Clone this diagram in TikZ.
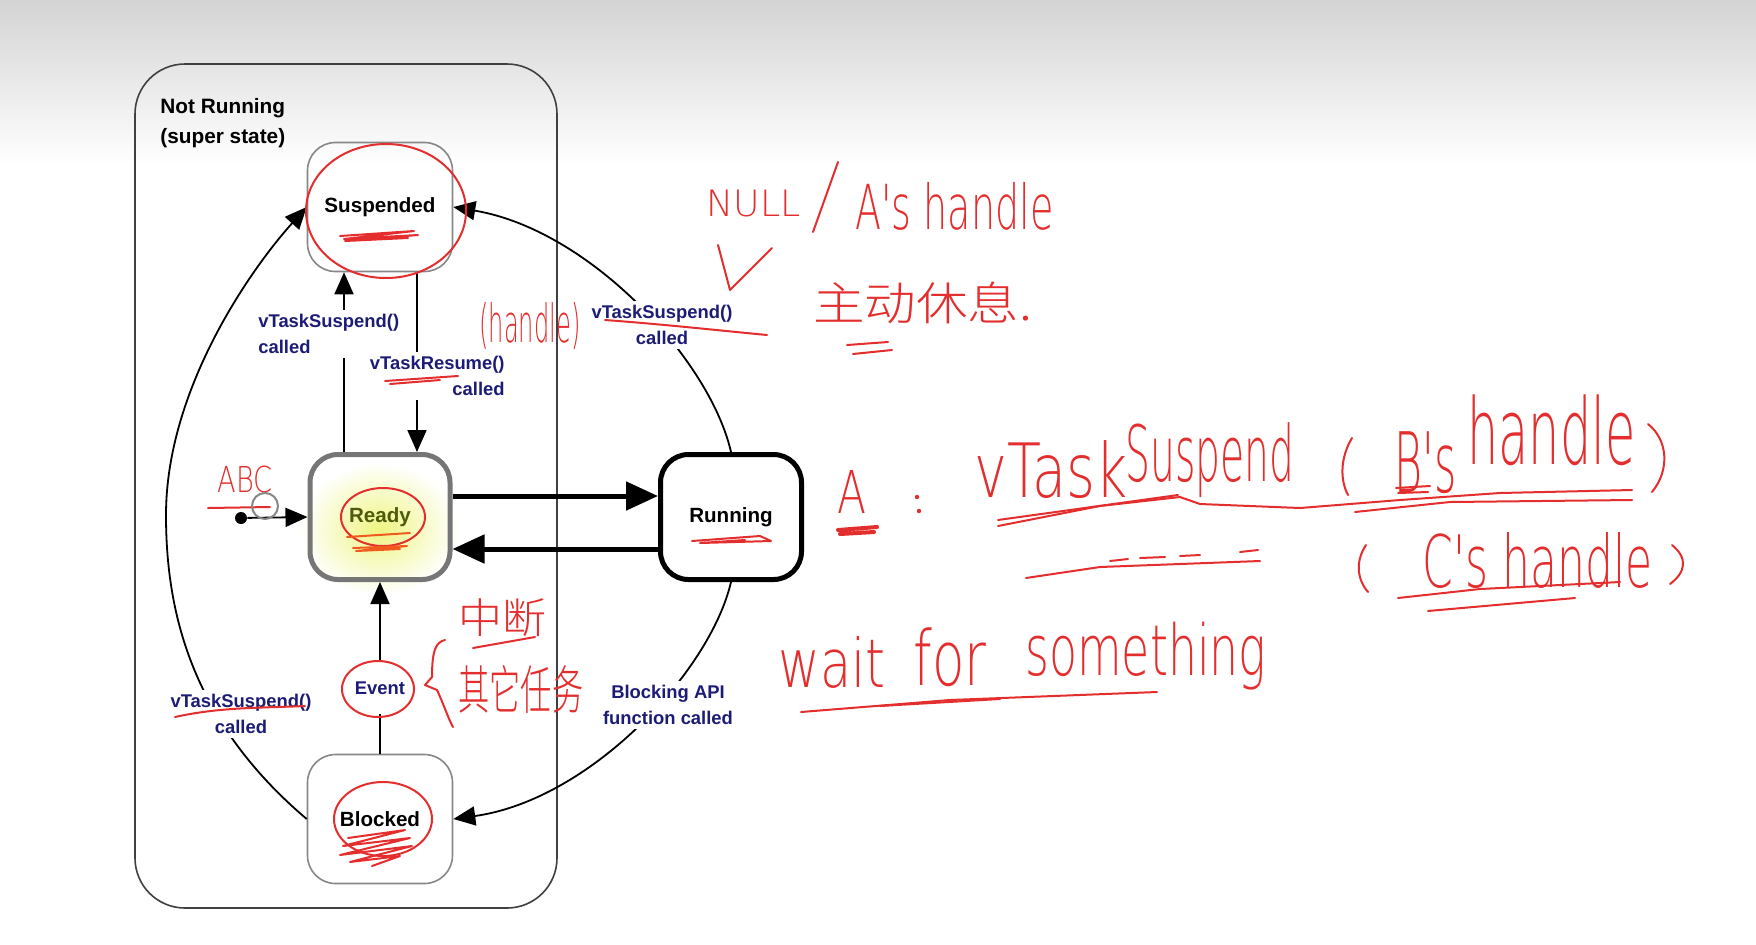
\documentclass[tikz,border=0pt]{standalone}
\usepackage{fontspec}
\setmainfont{Liberation Sans}
\IfFontExistsTF{Noto Sans CJK SC Light}{\newfontfamily\hw{Noto Sans CJK SC Light}}{%
  \IfFontExistsTF{Noto Sans CJK SC DemiLight}{\newfontfamily\hw{Noto Sans CJK SC DemiLight}}{\newfontfamily\hw{Noto Sans CJK SC}}}
\IfFontExistsTF{DejaVu Sans ExtraLight}{\newfontfamily\hwl{DejaVu Sans ExtraLight}}{\let\hwl\hw}
\usepackage{graphicx}
\usetikzlibrary{arrows.meta,calc}
\definecolor{hred}{RGB}{228,46,46}
\definecolor{hora}{RGB}{240,90,30}
\definecolor{lblue}{RGB}{28,28,118}
\definecolor{bgray}{RGB}{135,135,135}
\definecolor{rgray}{RGB}{118,118,118}
\definecolor{readytxt}{RGB}{78,90,12}
\definecolor{hilite}{RGB}{238,245,130}
\newcommand\myhw[6]{%
  \pgfmathsetlengthmacro\hwW{(#4-#2)*0.5}%
  \pgfmathsetlengthmacro\hwH{(#5-#3)*0.5}%
  \node[hwn] (#1) at (#2,#3) {\resizebox*{\hwW}{\hwH}{\hwl #6}};}
\newcommand\mycj[6]{%
  \pgfmathsetlengthmacro\hwW{(#4-#2)*0.5}%
  \pgfmathsetlengthmacro\hwH{(#5-#3)*0.5}%
  \node[hwn] (#1) at (#2,#3) {\resizebox*{\hwW}{\hwH}{\hw #6}};}
\tikzset{
  statebox/.style={rounded corners=14pt, minimum width=72.5pt, minimum height=64.5pt, inner sep=0,
    font=\fontsize{10.3}{12}\selectfont\bfseries},
  thinstate/.style={statebox, draw=bgray, line width=0.8pt},
  readystate/.style={statebox, draw=rgray, line width=2.5pt, minimum width=70pt, minimum height=62.5pt, text=readytxt},
  runstate/.style={statebox, draw=black, line width=2.5pt, minimum width=70.5pt, minimum height=62.5pt},
  conn/.style={line width=0.9pt, -{Triangle[length=11pt,width=9.5pt]}},
  bigconn/.style={line width=2.5pt, -{Triangle[length=16pt,width=14pt]}},
  lbl/.style={fill=white, inner sep=2pt, text=lblue, font=\fontsize{9.2}{13}\selectfont\bfseries},
  hwn/.style={inner sep=0, text=hred, anchor=north west},
  pen/.style={draw=hred, line width=1pt, line cap=round, line join=round},
}
\begin{document}
\begin{tikzpicture}[x=0.5pt,y=-0.5pt]
\useasboundingbox (0,0) rectangle (1756,944);
\fill[white] (0,0) rectangle (1756,944);
\shade[top color=black!17, bottom color=white] (0,0) rectangle (1756,165);

% yellow highlight behind Ready
\shade[inner color=hilite, outer color=white] (379,529) ellipse [x radius=80, y radius=66];

% super state
\node[draw=black!75, line width=0.8pt, rounded corners=25pt, minimum width=211pt, minimum height=422pt, inner sep=0] (nr) at (346,486) {};
\node[anchor=north west, align=left, inner sep=0, font=\fontsize{10.4}{15}\selectfont\bfseries] (nrlabel) at (160,98) {Not Running\\(super state)};

% states
\node[thinstate] (susp) at (380,207) {Suspended};
\node[readystate] (ready) at (380,517) {Ready};
\node[runstate] (run) at (731,517) {Running};
\node[thinstate] (blk) at (380,819) {Blocked};

% connectors
\draw[conn] ([xshift=-18pt]ready.north) -- ([xshift=-18pt]susp.south);
\draw[conn] ([xshift=18.5pt]susp.south) -- ([xshift=18.5pt]ready.north);
\draw[conn] (blk.north) -- (ready.south);
\draw[bigconn] ([yshift=10.5pt]ready.east) -- ([yshift=10.5pt]run.west);
\draw[bigconn] ([yshift=-16pt]run.west) -- ([yshift=-16pt]ready.east);
\draw[conn] (run.north) .. controls (710,360) and (590,230) .. (susp.east);
\draw[conn] (run.south) .. controls (710,672) and (590,800) .. (blk.east);
\draw[conn] (blk.west) .. controls (190,720) and (166,610) .. (166,515) .. controls (166,390) and (250,270) .. (susp.west);

\node[circle, fill=black, minimum size=6pt, inner sep=0] (init) at (241,518) {};
\draw[conn] (init) -- (ready.west);

% labels
\node[lbl, align=left, anchor=north west] (l1) at (254,310) {vTaskSuspend()\\called};
\node[lbl, align=right, anchor=north east] (l2) at (509,352) {vTaskResume()\\called};
\node[lbl, align=center] (l3) at (662,325) {vTaskSuspend()\\called};
\node[lbl, align=center] (l4) at (668,705) {Blocking API\\function called};
\node[lbl, align=center] (l5) at (241,714) {vTaskSuspend()\\called};
\node[lbl, inner ysep=10pt, inner xsep=3pt] (ev) at (380,688) {Event};

% ---- red handwritten text ----
\myhw{abc}{217}{466}{272}{493}{ABC}
\myhw{null}{706}{190}{800}{217}{NULL}
\myhw{ahandle}{855}{182}{1053}{230}{A's handle}
\mycj{rest}{813}{282}{1032}{324}{主动休息.}
\myhw{handle}{479}{302}{580}{349}{(handle)}
\myhw{atask}{837}{470}{866}{513}{A}
\myhw{vtask}{974}{440}{1127}{498}{vTask}
\myhw{susw}{1125}{422}{1294}{497}{Suspend}
\myhw{bs}{1394}{431}{1456}{493}{B's}
\myhw{hb}{1467}{394}{1635}{465}{handle}
\myhw{cs}{1422}{532}{1652}{588}{C's handle}
\myhw{wait}{778}{636}{885}{688}{wait}
\myhw{for}{913}{627}{986}{686}{for}
\myhw{sth}{1025}{622}{1266}{690}{something}
\mycj{zd}{458}{598}{546}{636}{中断}
\mycj{qt}{458}{665}{583}{713}{其它任务}

% ---- red strokes ----
\draw[pen] (386,211) ellipse [x radius=80, y radius=67];
\draw[pen] (383,517) ellipse [x radius=42, y radius=29];
\draw[pen] (383,819) ellipse [x radius=49, y radius=37];
\draw[pen] (378,689) ellipse [x radius=36, y radius=28];

% scribbles
\draw[pen] (340,236) -- (414,231) -- (344,239) -- (418,235) -- (345,241) -- (408,238);
\draw[pen, draw=hora] (347,537) -- (410,533) (353,548) -- (407,546) -- (356,551) -- (400,549);
\draw[pen] (692,541) -- (760,536) -- (771,541) -- (700,543) -- (745,540);
\draw[pen] (348,838) -- (405,830) -- (343,846) -- (410,838) -- (340,855) -- (412,846) -- (350,862) -- (400,856) -- (372,866);
\draw[pen] (385,381) -- (458,376) (390,384) -- (440,380);
\draw[pen] (175,717) .. controls (220,707) and (260,708) .. (305,706);
\draw[pen] (605,320) .. controls (660,324) and (715,330) .. (767,335);

% ABC marks
\draw[pen] (208,508) -- (270,507);
\draw[bgray, line width=1pt] (265,506) circle [radius=13];

% NULL / A's handle, check, rest
\draw[pen] (813,232) -- (838,162);
\draw[pen] (718,245) -- (730,290) -- (772,248);
\draw[pen] (847,345) -- (888,342) (853,354) -- (892,350);

% A : vTaskSuspend ( B's handle )
\draw[pen, line width=2pt] (838,530) -- (877,527) (840,534) -- (874,532);
\fill[hred] (917,497) circle [radius=2.2] (919,511) circle [radius=2.2];
\draw[pen] (1352,438) .. controls (1340,458) and (1340,480) .. (1348,495);
\draw[pen] (1648,424) .. controls (1668,440) and (1670,470) .. (1652,492);
\draw[pen] (1396,488) -- (1430,486) (1398,493) -- (1428,492);
\draw[pen] (998,526) -- (1100,506) -- (1180,497) -- (1200,504) -- (1300,508) -- (1400,500) -- (1500,493) -- (1632,490);
\draw[pen] (998,520) -- (1178,495);
\draw[pen] (1355,512) -- (1450,502) -- (1632,500);

% dashed stroke and ( C's handle )
\draw[pen] (1026,578) -- (1100,567) -- (1260,561);
\draw[pen] (1110,561) -- (1128,559) (1140,558) -- (1165,557) (1180,556) -- (1200,555) (1240,552) -- (1258,550);
\draw[pen] (1366,545) .. controls (1356,560) and (1356,578) .. (1368,592);
\draw[pen] (1672,545) .. controls (1688,558) and (1686,572) .. (1670,584);
\draw[pen] (1398,598) -- (1480,589) -- (1620,582);
\draw[pen] (1428,611) -- (1575,598);

% wait for something
\draw[pen] (801,712) -- (950,700) -- (1157,692);
\draw[pen] (880,706) -- (1000,699);

% interrupt / other task
\draw[pen] (473,648) -- (535,637);
\draw[pen] (445,640) .. controls (436,642) and (432,650) .. (432,677) -- (425,685) -- (437,690) .. controls (444,705) and (448,718) .. (453,727);
\end{tikzpicture}
\end{document}
